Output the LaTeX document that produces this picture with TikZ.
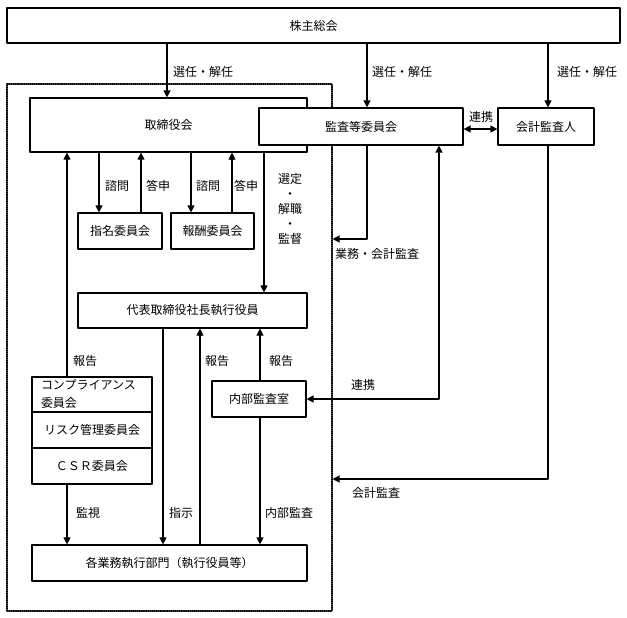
\documentclass[tikz,border=0pt]{standalone}
\usepackage{fontspec}
\setmainfont{Noto Sans CJK JP}
\usepackage{tikz}
\usetikzlibrary{arrows.meta}

\begin{document}
\begin{tikzpicture}[line cap=round,line join=round,>={Triangle[length=7pt,width=7pt]},x=1pt,y=-1pt,
  every node/.style={font=\fontsize{12}{15}\selectfont},
  box/.style 2 args={draw,line width=1.2pt,fill=white,inner sep=0pt,minimum width=#1,minimum height=#2},
  conn/.style={line width=1.2pt},
  lbl/.style={anchor=west,inner sep=0pt}]
\useasboundingbox (0,0) rectangle (627,618);
% boxes
\node[box={613}{35}] (kabu) at (313.5,25.5) {株主総会};
\node[draw,densely dotted,line width=1.1pt,inner sep=0pt,minimum width=325,minimum height=527] (waku) at (169.5,347.5) {};
\node[box={277}{54}] (tori) at (168.5,125) {取締役会};
\node[box={204}{37}] (kansa) at (361,126.5) {監査等委員会};
\node[box={96}{37}] (kaikei) at (546,126.5) {会計監査人};
\node[box={84}{36}] (shimei) at (120,231) {指名委員会};
\node[box={83}{36}] (hoshu) at (212.5,231) {報酬委員会};
\node[box={229}{35}] (daihyo) at (192.5,310.5) {代表取締役社長執行役員};
\node[box={120}{35},align=left,text width=102,font=\fontsize{12}{18}\selectfont] (comp) at (92,394.5) {コンプライアンス\\委員会};
\node[box={120}{36}] (risk) at (92,430) {リスク管理委員会};
\node[box={120}{36}] (csr) at (92,466) {ＣＳＲ委員会};
\node[box={94}{36}] (naibu) at (259,399) {内部監査室};
\node[box={275}{36}] (kaku) at (169.5,563) {各業務執行部門（執行役員等）};
% connectors
\draw[conn,->] (kabu.south -| 167,0) -- (tori.north -| 167,0);
\draw[conn,->] (kabu.south -| 367,0) -- (kansa.north -| 367,0);
\draw[conn,->] (kabu.south -| 548,0) -- (kaikei.north -| 548,0);
\draw[conn,<->] (kansa.east |- 0,129) -- (kaikei.west |- 0,129);
\draw[conn,->] (tori.south -| 99,0) -- (shimei.north -| 99,0);
\draw[conn,->] (shimei.north -| 141,0) -- (tori.south -| 141,0);
\draw[conn,->] (tori.south -| 191,0) -- (hoshu.north -| 191,0);
\draw[conn,->] (hoshu.north -| 232,0) -- (tori.south -| 232,0);
\draw[conn,->] (tori.south -| 264,0) -- (daihyo.north -| 264,0);
\draw[conn,->] (kansa.south -| 367,0) -- (367,239) -- (waku.east |- 0,239);
\draw[conn,<->] (naibu.east) -- (439,399) -- (kansa.south -| 439,0);
\draw[conn,->] (kaikei.south -| 548,0) -- (548,479) -- (waku.east |- 0,479);
\draw[conn,->] (comp.north -| 67,0) -- (tori.south -| 67,0);
\draw[conn,->] (csr.south -| 67,0) -- (kaku.north -| 67,0);
\draw[conn,->] (daihyo.south -| 163,0) -- (kaku.north -| 163,0);
\draw[conn,->] (kaku.north -| 200,0) -- (daihyo.south -| 200,0);
\draw[conn,->] (naibu.north -| 260,0) -- (daihyo.south -| 260,0);
\draw[conn,->] (naibu.south -| 260,0) -- (kaku.north -| 260,0);
% labels
\node[lbl] (lSennin1) at (173,72) {選任・解任};
\node[lbl] (lSennin2) at (372,72) {選任・解任};
\node[lbl] (lSennin3) at (557,72) {選任・解任};
\node[lbl] (lRenkei1) at (469,117) {連携};
\node[lbl] (lShimon1) at (105,186) {諮問};
\node[lbl] (lToshin1) at (146,186) {答申};
\node[lbl] (lShimon2) at (196,186) {諮問};
\node[lbl] (lToshin2) at (234,186) {答申};
\node[align=center,inner sep=0pt] (lSentei) at (290,209) {選定\\・\\解職\\・\\監督};
\node[lbl] (lGyomu) at (335,254) {業務・会計監査};
\node[lbl] (lRenkei2) at (351,385) {連携};
\node[lbl] (lKaikei) at (352,493) {会計監査};
\node[lbl] (lHokoku1) at (73,361) {報告};
\node[lbl] (lHokoku2) at (205,361) {報告};
\node[lbl] (lHokoku3) at (269,361) {報告};
\node[lbl] (lKanshi) at (76,513) {監視};
\node[lbl] (lShiji) at (169,513) {指示};
\node[lbl] (lNaibu) at (265,513) {内部監査};
\end{tikzpicture}
\end{document}
